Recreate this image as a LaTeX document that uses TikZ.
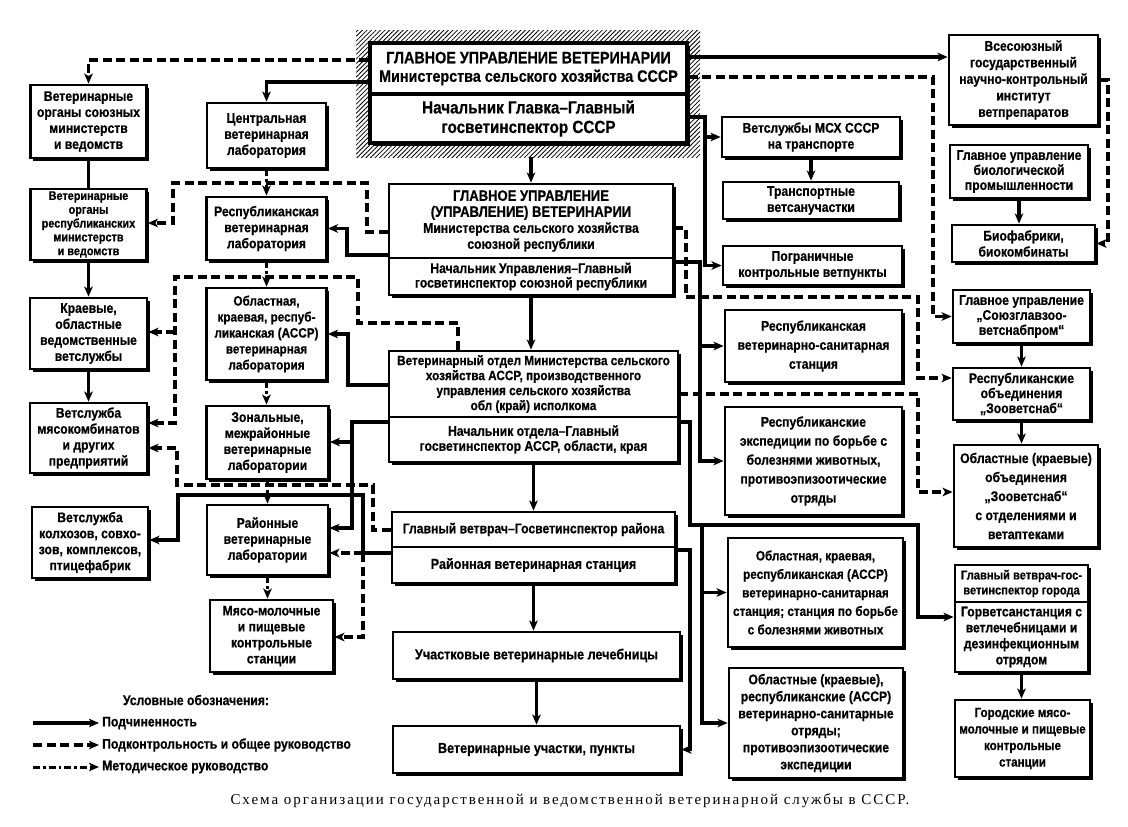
\documentclass[tikz,border=0pt]{standalone}
\usepackage{fontspec}
\setmainfont{Liberation Serif}
\newfontfamily\boxfont{Liberation Sans Bold}[FakeStretch=0.87, FakeBold=0.6]
\usetikzlibrary{positioning,shadows,arrows.meta,patterns.meta}

\tikzset{
  fs/.style 2 args={font=\boxfont\fontsize{#1}{#2}\selectfont},
  sz/.style 2 args={minimum width=#1pt, minimum height=#2pt},
  box/.style={draw, line width=2.8pt, fill=white, align=center, inner sep=1pt, fs={14}{16},
    drop shadow={shadow xshift=2.8pt, shadow yshift=-2.8pt, fill=black, opacity=1}},
  mainbox/.style={box, line width=3.4pt, fs={16.5}{18.5}},
  hatch/.style={inner sep=0pt, pattern={Lines[angle=45,distance=3.2pt,line width=0.8pt]}},
  sub/.style={line width=3.2pt},
  ctrl/.style={line width=3.2pt, dash pattern=on 9pt off 4.5pt},
  meth/.style={line width=3pt, dash pattern=on 7pt off 3pt on 2.5pt off 3pt},
  legtext/.style={anchor=west, inner sep=3pt, fs={14}{15}}
}

\begin{document}
\begin{tikzpicture}[x=1pt, y=-1pt, >={Stealth[length=10pt,width=8.5pt,inset=2.5pt]}]
\useasboundingbox (0,0) rectangle (1128,827);

% main office with hatched frame
\node[hatch, sz={344}{127}] (hatch) at (528,93.5) {};
\node[mainbox, sz={317}{51}] (mainA) at (528.5,68.5) {ГЛАВНОЕ УПРАВЛЕНИЕ ВЕТЕРИНАРИИ\\Министерства сельского хозяйства СССР};
\node[mainbox, fs={17.5}{19.5}, sz={317}{49}] (mainB) at (528.5,118.5) {Начальник Главка–Главный\\госветинспектор СССР};

% left column
\node[box, sz={116}{73}] (vsoyuz) at (88.5,121.5) {Ветеринарные\\органы союзных\\министерств\\и ведомств};
\node[box, fs={12.5}{13.8}, sz={116}{71}] (vresp) at (88.5,224.5) {Ветеринарные\\органы\\республиканских\\министерств\\и ведомств};
\node[box, sz={117}{71}] (kraev) at (88.5,333.5) {Краевые,\\областные\\ведомственные\\ветслужбы};
\node[box, sz={117}{70}] (myaso) at (88.5,438) {Ветслужба\\мясокомбинатов\\и других\\предприятий};
\node[box, sz={116}{71}] (kolkhoz) at (90,542.5) {Ветслужба\\колхозов, совхо-\\зов, комплексов,\\птицефабрик};

% laboratories
\node[box, sz={119}{65}] (clab) at (266.5,135.5) {Центральная\\ветеринарная\\лаборатория};
\node[box, sz={120}{63}] (rlab) at (266.5,228.5) {Республиканская\\ветеринарная\\лаборатория};
\node[box, fs={13.5}{16}, sz={120}{92}] (olab) at (266.5,334) {Областная,\\краевая, респуб-\\ликанская (АССР)\\ветеринарная\\лаборатория};
\node[box, sz={122}{73}] (zlab) at (267.5,442.5) {Зональные,\\межрайонные\\ветеринарные\\лаборатории};
\node[box, sz={121}{70}] (dlab) at (267.5,540) {Районные\\ветеринарные\\лаборатории};
\node[box, sz={123}{72}] (mlab) at (271.5,636) {Мясо-молочные\\и пищевые\\контрольные\\станции};

% centre column
\node[box, sz={284}{74}] (gurA) at (531,221) {\fontsize{15}{16}\selectfont ГЛАВНОЕ УПРАВЛЕНИЕ\\\fontsize{15}{16}\selectfont (УПРАВЛЕНИЕ) ВЕТЕРИНАРИИ\\Министерства сельского хозяйства\\союзной республики};
\node[box, fs={14}{14.5}, sz={284}{37}] (gurB) at (531,276.5) {Начальник Управления–Главный\\госветинспектор союзной республики};
\node[box, fs={13.5}{15}, sz={289}{66}] (otdA) at (533.5,384) {Ветеринарный отдел Министерства сельского\\хозяйства АССР, производственного\\управления сельского хозяйства\\обл (край) исполкома};
\node[box, fs={14}{15}, sz={289}{45}] (otdB) at (533.5,439.5) {Начальник отдела–Главный\\госветинспектор АССР, области, края};
\node[box, fs={14}{16}, sz={283}{35}] (raiA) at (533.5,529.5) {Главный ветврач–Госветинспектор района};
\node[box, fs={14.5}{16}, sz={283}{36}] (raiB) at (533.5,565) {Районная ветеринарная станция};
\node[box, fs={14.5}{16}, sz={287}{47}] (uch) at (536.5,655.5) {Участковые ветеринарные лечебницы};
\node[box, fs={14.5}{16}, sz={287}{47}] (punkt) at (536.5,749.5) {Ветеринарные участки, пункты};

% right centre column
\node[box, sz={178}{40}] (msx) at (811,137) {Ветслужбы МСХ СССР\\на транспорте};
\node[box, sz={176}{37}] (trans) at (811,200.5) {Транспортные\\ветсанучастки};
\node[box, sz={179}{39}] (pogr) at (812.5,265.5) {Пограничные\\контрольные ветпункты};
\node[box, fs={14}{19}, sz={177}{72}] (rvss) at (813.5,346) {Республиканская\\ветеринарно-санитарная\\станция};
\node[box, fs={14}{19}, sz={177}{108}] (rexp) at (813.5,461) {Республиканские\\экспедиции по борьбе с\\болезнями животных,\\противоэпизоотические\\отряды};
\node[box, fs={13.5}{18.5}, sz={175}{109}] (ovss) at (815.5,592.5) {Областная, краевая,\\республиканская (АССР)\\ветеринарно-санитарная\\станция; станция по борьбе\\с болезнями животных};
\node[box, fs={14}{17}, sz={174}{110}] (ootr) at (816,723) {Областные (краевые),\\республиканские (АССР)\\ветеринарно-санитарные\\отряды;\\противоэпизоотические\\экспедиции};

% right column
\node[box, fs={14}{16.5}, sz={149}{90}] (vniki) at (1023.5,80) {Всесоюзный\\государственный\\научно-контрольный\\институт\\ветпрепаратов};
\node[box, fs={14}{15}, sz={138}{53}] (biol) at (1019,171.5) {Главное управление\\биологической\\промышленности};
\node[box, sz={143}{37}] (biof) at (1023.5,243.5) {Биофабрики,\\биокомбинаты};
\node[box, fs={14}{15}, sz={137}{53}] (soyuzgl) at (1021.5,316.5) {Главное управление\\„Союзглавзоо-\\ветснабпром“};
\node[box, fs={14}{15}, sz={137}{52}] (rzoo) at (1021.5,394) {Республиканские\\объединения\\„Зооветснаб“};
\node[box, fs={14}{19}, sz={144}{102}] (ozoo) at (1026,496) {Областные (краевые)\\объединения\\„Зооветснаб“\\с отделениями и\\ветаптеками};
\node[box, fs={12.8}{15}, sz={133}{37}] (gorA) at (1021.5,583.5) {Главный ветврач-гос-\\ветинспектор города};
\node[box, fs={14}{16}, sz={133}{70}] (gorB) at (1021.5,637) {Горветсанстанция с\\ветлечебницами и\\дезинфекционным\\отрядом};
\node[box, fs={13.3}{16.5}, sz={135}{77}] (gmyaso) at (1022.5,738.5) {Городские мясо-\\молочные и пищевые\\контрольные\\станции};

% junctions
\coordinate (jrai) at (363,553);
\coordinate (jkr) at (175,332);
\coordinate (jzon) at (352,442);
\coordinate (jmsx) at (705,137);
\coordinate (jrvs) at (700,346);
\coordinate (jobl) at (702,525);
\coordinate (jovs) at (702,592.5);

% straight chains
\foreach \a/\b in {gurB/otdA, otdB/raiA, raiB/uch, uch/punkt, vresp/kraev, kraev/myaso,
                   biol/biof, soyuzgl/rzoo, rzoo/ozoo, gorB/gmyaso, msx/trans}
  \draw[sub,->] (\a.south) -- (\a.south |- \b.north);
\draw[sub] (vsoyuz.south) -- (vresp.north);
\draw[sub,->] (gurA.north |- hatch.south) -- (gurA.north);
\foreach \a/\b in {clab/rlab, rlab/olab, olab/zlab, zlab/dlab, dlab/mlab}
  \draw[meth,->] (\a.south) -- (\a.south |- \b.north);

% subordination
\draw[sub,->] (mainA.west |- 0,82) -| (clab.north);
\draw[sub,->] (mainA.east |- 0,57) -- (vniki.west |- 0,57);
\draw[sub,->] (mainB.east |- 0,117) -- (705,117) |- (pogr.west);
\draw[sub,->] (jmsx) -- (msx.west);
\draw[sub,->] (gurA.west |- 0,255) -- (347,255) |- (rlab.east);
\draw[sub,->] (gurB.east |- 0,262) -- (700,262) |- (rexp.west);
\draw[sub,->] (jrvs) -- (rvss.west);
\draw[sub,->] (otdA.west |- 0,385) -- (348,385) |- (olab.east);
\draw[sub,->] (otdB.west |- 0,422) -- (352,422) |- (dlab.east |- 0,528);
\draw[sub,->] (jzon) -- (zlab.east |- jzon);
\draw[sub,->] (otdB.east |- 0,422) -- (690,422) |- (918,525) |- (gorB.west |- 0,617);
\draw[sub,->] (jobl) |- (ootr.west);
\draw[sub,->] (jovs) -- (ovss.west);
\draw[sub,->] (raiB.west |- jrai) -| (363,495) -| (178,540) -- (kolkhoz.east |- 0,540);
\draw[sub,->] (raiB.east |- 0,550) -- (690,550) |- (punkt.east);

% control and general guidance
\draw[ctrl,->] (mainA.west |- 0,60) -| (vsoyuz.north);
\draw[ctrl,->] (mainA.east |- 0,77) -- (933,77) |- (soyuzgl.west);
\draw[ctrl,->] (vniki.east) -- (1108,80) |- (biof.east);
\draw[ctrl,->] (gurA.west |- 0,232) -- (367,232) |- (173,183) |- (vresp.east |- 0,223);
\draw[ctrl,->] (gurA.east |- 0,228) -| (686,297) -| (918,378) -- (rzoo.west |- 0,378);
\draw[ctrl,->] (otdA.north -| 458,0) |- (358,323) |- (175,277) |- (myaso.east |- 0,423);
\draw[ctrl,->] (jkr) -- (kraev.east |- jkr);
\draw[ctrl,->] (otdA.east |- 0,394) -- (918,394) |- (ozoo.west |- 0,492);
\draw[ctrl,->] (raiA.west |- 0,530) -| (373,485) -| (177,448) -- (myaso.east |- 0,448);
\draw[ctrl,->] (jrai) -- (dlab.east |- jrai);
\draw[ctrl,->] (jrai) |- (mlab.east |- 0,637);

% legend
\node[fs={14}{15}] (legtitle) at (196,700) {Условные обозначения:};
\foreach \sty/\y/\txt [count=\i] in {sub/723/Подчиненность, ctrl/745/Подконтрольность и общее руководство, meth/767/Методическое руководство} {
  \node[legtext] (leg\i) at (99,\y) {\txt};
  \coordinate (legs\i) at (33,\y);
  \draw[\sty,->] (legs\i) -- (leg\i.west);
}

\node[font=\fontsize{15}{17}\selectfont\addfontfeature{LetterSpace=13}] (caption) at (570,801) {Схема организации государственной и ведомственной ветеринарной службы в СССР.};
\end{tikzpicture}
\end{document}
